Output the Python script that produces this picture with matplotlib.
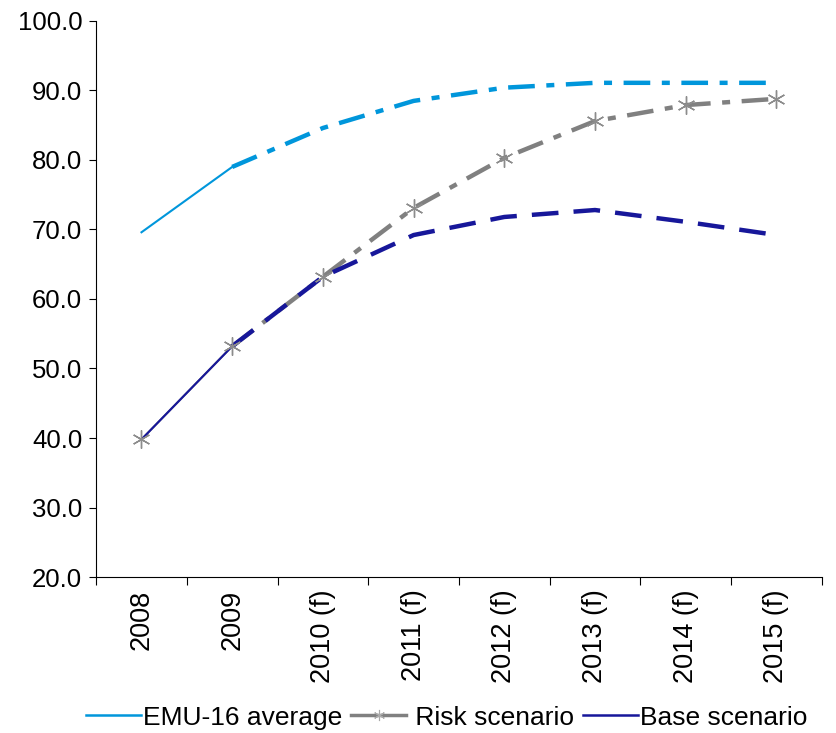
import matplotlib.pyplot as plt
from matplotlib.lines import Line2D
from matplotlib.ticker import FormatStrFormatter, FixedLocator
import numpy as np

years = ["2008", "2009", "2010 (f)", "2011 (f)", "2012 (f)", "2013 (f)", "2014 (f)", "2015 (f)"]
emu_avg = [69.6, 79.0, 84.6, 88.5, 90.4, 91.1, 91.1, 91.1]
risk = [39.8, 53.2, 63.2, 73.1, 80.3, 85.6, 87.9, 88.8]
base = [39.8, 53.2, 63.2, 69.2, 71.8, 72.8, 71.1, 69.2]

emu_col = "#0096DB"
risk_col = "#808080"
base_col = "#17179A"

plt.rcParams['font.family'] = ['Liberation Sans', 'DejaVu Sans']

fig = plt.figure(figsize=(8.36, 7.33), dpi=100)
ax = fig.add_axes([0.115, 0.2128, 0.868, 0.7586])

x = np.arange(len(years))

# actual data (thin solid), forecasts (thick dashed)
def draw(vals, col, dashes, z):
    ax.plot(x[:2], vals[:2], color=col, lw=1.5, zorder=z)
    ax.plot(x[1:], vals[1:], color=col, lw=3.2, dashes=dashes, zorder=z)

draw(emu_avg, emu_col, [6, 2.6, 1.8, 2.6], 3)
draw(risk, risk_col, [6, 2.6, 1.8, 2.6], 2)
draw(base, base_col, [6, 3.4], 4)
ax.plot(x, risk, ls="none", marker=(6, 2, 0), ms=13, mec="#8c8c8c", mew=1.0, zorder=5)

ax.set_xlim(-0.5, len(years) - 0.5)
ax.set_ylim(20, 100)
ax.set_yticks(np.arange(20, 101, 10))
ax.yaxis.set_major_formatter(FormatStrFormatter("%.1f"))
ax.set_xticks(x)
ax.set_xticklabels(years, rotation=90, fontsize=19.5)
ax.tick_params(axis="x", which="major", length=0, pad=9)
ax.xaxis.set_minor_locator(FixedLocator(np.arange(-0.5, len(years), 1.0)))
ax.tick_params(axis="x", which="minor", length=6, width=0.8)
ax.tick_params(axis="y", length=5, width=0.8, labelsize=18.5, pad=5)
for s in ["top", "right"]:
    ax.spines[s].set_visible(False)
for s in ["left", "bottom"]:
    ax.spines[s].set_linewidth(0.8)

handles = [
    Line2D([], [], color=emu_col, lw=1.8),
    Line2D([], [], color=risk_col, lw=2.5, marker=(6, 2, 0), ms=8, mec="#aaaaaa", mew=0.8),
    Line2D([], [], color=base_col, lw=1.8),
]
labels = ["EMU-16 average", " Risk scenario", "Base scenario"]
fig.legend(handles, labels, loc="center", bbox_to_anchor=(0.534, 0.021), ncol=3,
           frameon=False, handlelength=2.1, handletextpad=0.05, columnspacing=0.35,
           fontsize=19)

fig.savefig("out.png", dpi=100)
